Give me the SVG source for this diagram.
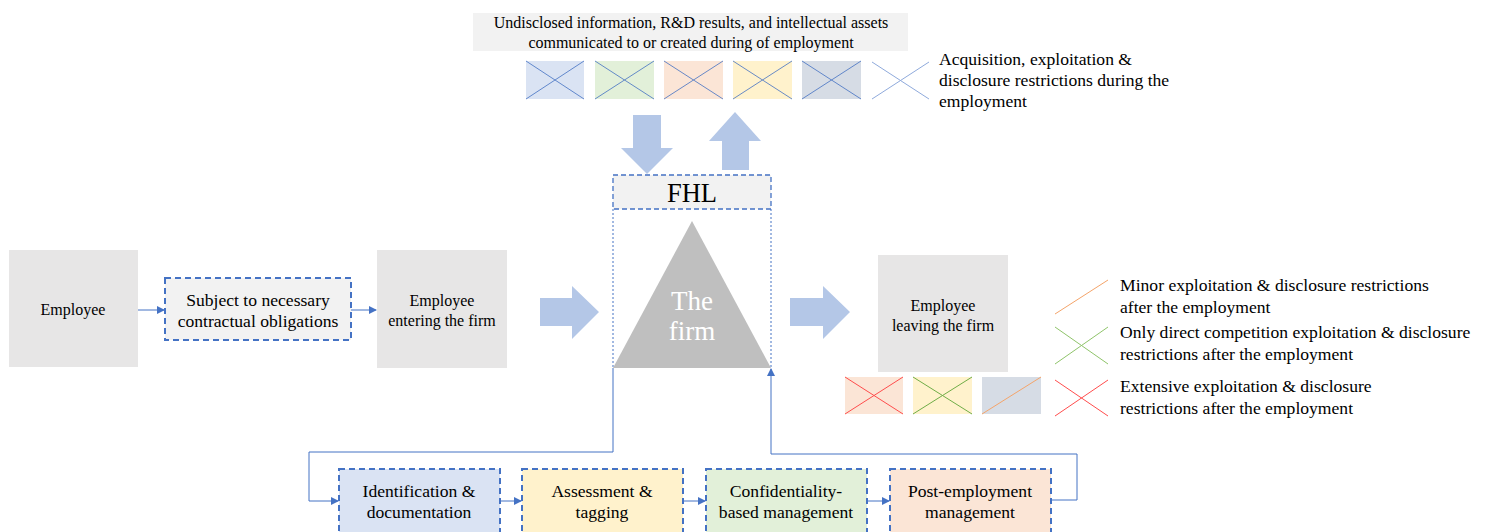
<svg xmlns="http://www.w3.org/2000/svg" width="1486" height="532" viewBox="0 0 1486 532" font-family="'Liberation Serif', 'DejaVu Serif', serif">
<defs>
<style>
text{font-family:'Liberation Serif','DejaVu Serif',serif;fill:#000;}
.c{text-anchor:middle;}
.t14{font-size:16px;}
.t15{font-size:16px;}
.t16{font-size:17.6px;}
.gray{fill:#e7e6e6;}
.dash{stroke:#4472c4;stroke-width:2;stroke-dasharray:6,4;}
.big{fill:#b4c7e7;}
.xl{stroke:#4472c4;stroke-width:1;opacity:0.8;}
.conn{fill:none;stroke:#4472c4;stroke-width:1;}
</style>
<marker id="ah" markerWidth="8" markerHeight="8" refX="7" refY="4" orient="auto" markerUnits="userSpaceOnUse">
<path d="M0,0 L8,4 L0,8 Z" fill="#4472c4"/>
</marker>
</defs>
<rect width="1486" height="532" fill="#fff"/>

<g id="assets">
<rect x="473" y="13" width="435" height="38" fill="#f2f2f2"/>
<text class="c t14" x="691" y="28">Undisclosed information, R&amp;D results, and intellectual assets</text>
<text class="c t14" x="691" y="48">communicated to or created during of employment</text>
<rect x="526" y="61" width="58" height="38" fill="#dae3f3"/>
<path class="xl" d="M526,61 L584,99 M584,61 L526,99"/>
<rect x="595" y="61" width="59" height="38" fill="#e2f0d9"/>
<path class="xl" d="M595,61 L654,99 M654,61 L595,99"/>
<rect x="664" y="61" width="59" height="38" fill="#fbe5d6"/>
<path class="xl" d="M664,61 L723,99 M723,61 L664,99"/>
<rect x="733" y="61" width="59" height="38" fill="#fff2cc"/>
<path class="xl" d="M733,61 L792,99 M792,61 L733,99"/>
<rect x="802" y="61" width="59" height="38" fill="#d6dce5"/>
<path class="xl" d="M802,61 L861,99 M861,61 L802,99"/>
</g>

<g id="legend-during">
<path d="M872,62 L929,99 M929,62 L872,99" stroke="#8faadc" stroke-width="1"/>
<text class="t16" x="939" y="65">Acquisition, exploitation &amp;</text>
<text class="t16" x="939" y="86">disclosure restrictions during the</text>
<text class="t16" x="939" y="107">employment</text>
</g>

<g id="big-arrows">
<path class="big" d="M633,115 H661 V148 H673 L647,174 L621,148 H633 Z"/>
<path class="big" d="M735,112 L761,141 H749 V170 H722 V141 H709 Z"/>
<path class="big" d="M540,298 H572 V286 L599,312 L572,339 V326 H540 Z"/>
<path class="big" d="M790,298 H823 V286 L850,312 L823,339 V326 H790 Z"/>
</g>

<g id="fhl">
<line x1="613" y1="209" x2="613" y2="368" stroke="#4472c4" stroke-width="1" stroke-dasharray="2,2"/>
<line x1="771" y1="209" x2="771" y2="368" stroke="#4472c4" stroke-width="1" stroke-dasharray="2,2"/>
<rect x="613" y="175" width="158" height="34" fill="#f2f2f2" stroke="#4472c4" stroke-width="1.3" stroke-dasharray="5,3"/>
<text class="c" x="692" y="202" font-size="26.5">FHL</text>
</g>

<g id="firm">
<polygon points="692,221 771,368 613,368" fill="#bfbfbf"/>
<text class="c" x="692" y="310" font-size="27" style="fill:#fff">The</text>
<text class="c" x="692" y="340" font-size="27" style="fill:#fff">firm</text>
</g>

<g id="employee">
<rect class="gray" x="9" y="250" width="129" height="117"/>
<text class="c t14" x="73" y="315">Employee</text>
</g>

<g id="subject">
<rect x="165" y="278" width="186" height="62" fill="#f2f2f2" class="dash"/>
<text class="c t16" x="258" y="306">Subject to necessary</text>
<text class="c t16" x="258" y="327">contractual obligations</text>
</g>

<g id="entering">
<rect class="gray" x="377" y="250" width="130" height="118"/>
<text class="c t15" x="442" y="306">Employee</text>
<text class="c t15" x="442" y="326">entering the firm</text>
</g>

<g id="leaving">
<rect class="gray" x="878" y="255" width="130" height="117"/>
<text class="c t15" x="943" y="311">Employee</text>
<text class="c t15" x="943" y="331">leaving the firm</text>
</g>

<g id="post-tags">
<rect x="845" y="377" width="58" height="37" fill="#fbe5d6"/>
<path d="M845,377 L903,414 M903,377 L845,414" stroke="#ff4d4d" stroke-width="1"/>
<rect x="913" y="377" width="59" height="37" fill="#fff2cc"/>
<path d="M913,377 L972,414 M972,377 L913,414" stroke="#70ad47" stroke-width="1"/>
<rect x="982" y="377" width="59" height="37" fill="#d6dce5"/>
<path d="M982,414 L1041,377" stroke="#f4a46a" stroke-width="1"/>
</g>

<g id="legend-after">
<path d="M1055,314 L1108,280" stroke="#f4a46a" stroke-width="1"/>
<text class="t16" x="1120" y="291">Minor exploitation &amp; disclosure restrictions</text>
<text class="t16" x="1120" y="313">after the employment</text>
<path d="M1055,327 L1108,364 M1108,327 L1055,364" stroke="#8fc46a" stroke-width="1"/>
<text class="t16" x="1120" y="338">Only direct competition exploitation &amp; disclosure</text>
<text class="t16" x="1120" y="360">restrictions after the employment</text>
<path d="M1055,380 L1108,416 M1108,380 L1055,416" stroke="#ff4d4d" stroke-width="1"/>
<text class="t16" x="1120" y="392">Extensive exploitation &amp; disclosure</text>
<text class="t16" x="1120" y="414">restrictions after the employment</text>
</g>

<g id="identification">
<rect x="339" y="469" width="161" height="70" fill="#dae3f3" class="dash"/>
<text class="c t16" x="419" y="497">Identification &amp;</text>
<text class="c t16" x="419" y="518">documentation</text>
</g>
<g id="assessment">
<rect x="522" y="469" width="161" height="70" fill="#fff2cc" class="dash"/>
<text class="c t16" x="602" y="497">Assessment &amp;</text>
<text class="c t16" x="602" y="518">tagging</text>
</g>
<g id="confidentiality">
<rect x="706" y="469" width="161" height="70" fill="#e2f0d9" class="dash"/>
<text class="c t16" x="786" y="497">Confidentiality-</text>
<text class="c t16" x="786" y="518">based management</text>
</g>
<g id="post-employment">
<rect x="890" y="469" width="161" height="70" fill="#fbe5d6" class="dash"/>
<text class="c t16" x="970" y="497">Post-employment</text>
<text class="c t16" x="970" y="518">management</text>
</g>

<g id="connectors">
<path class="conn" d="M138,310 H164" marker-end="url(#ah)"/>
<path class="conn" d="M351,310 H376" marker-end="url(#ah)"/>
<path class="conn" d="M613,368 V452 H309 V501 H338" marker-end="url(#ah)"/>
<path class="conn" d="M500,501 H521" marker-end="url(#ah)"/>
<path class="conn" d="M683,501 H705" marker-end="url(#ah)"/>
<path class="conn" d="M867,501 H889" marker-end="url(#ah)"/>
<path class="conn" d="M1051,500 H1077 V454 H771 V369" marker-end="url(#ah)"/>
</g>
</svg>
